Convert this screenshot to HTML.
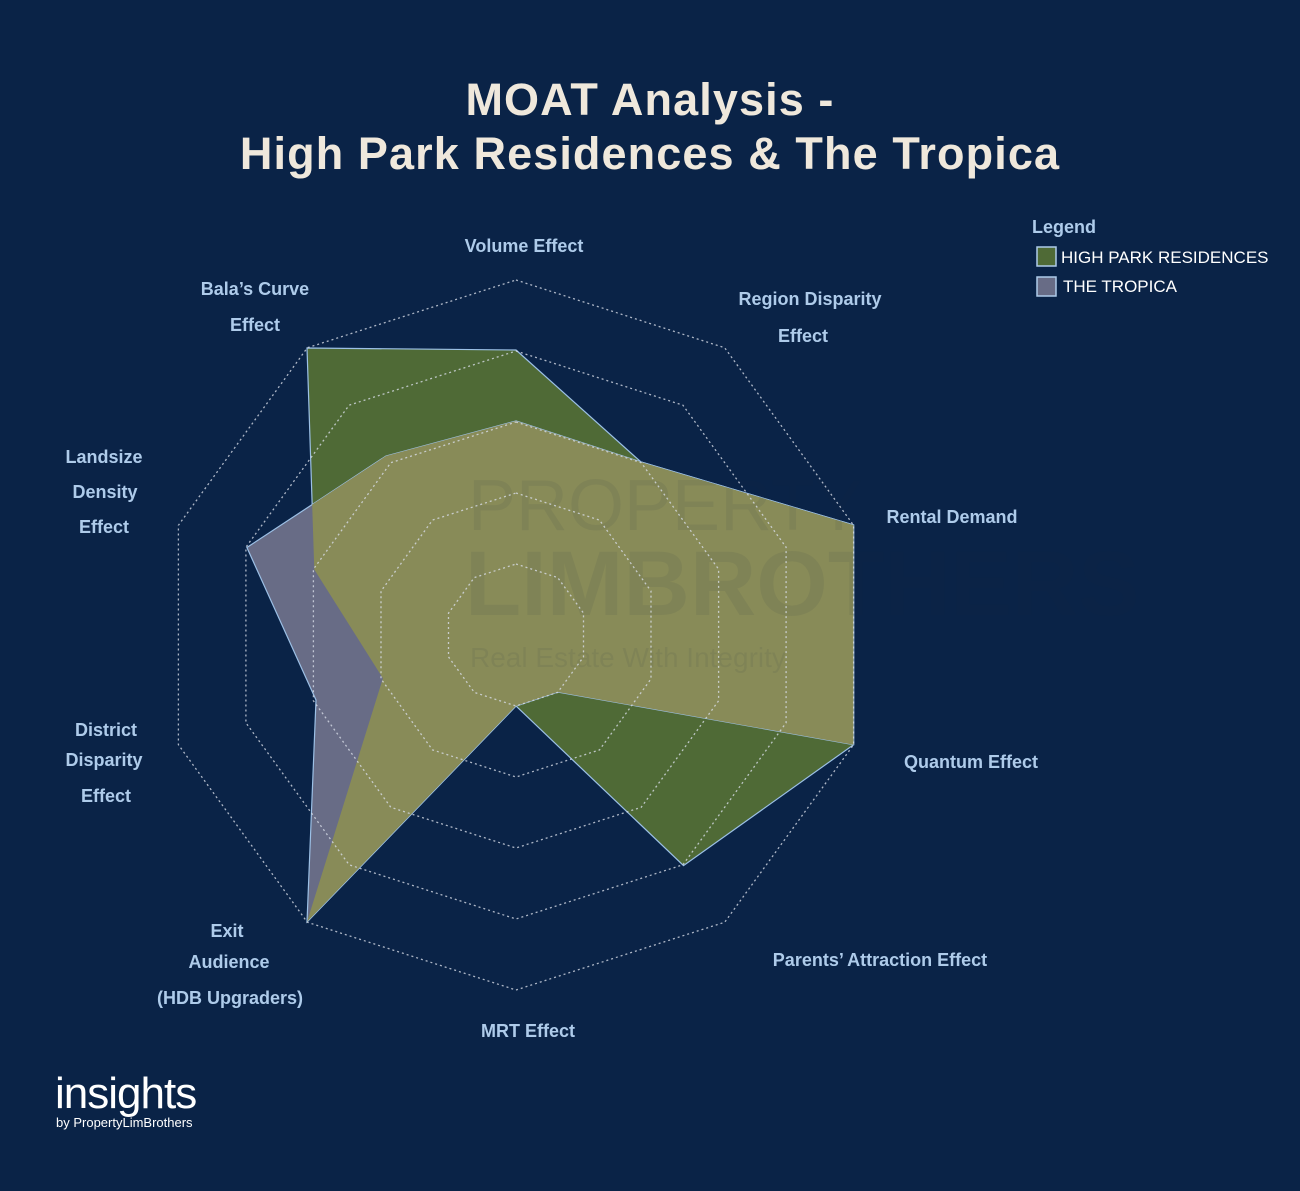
<!DOCTYPE html>
<html><head><meta charset="utf-8"><style>
html,body{margin:0;padding:0;background:#0a2347;}
body{width:1300px;height:1191px;overflow:hidden;position:relative;font-family:"Liberation Sans",sans-serif;}
.t{position:absolute;left:0;width:1300px;text-align:center;color:#efe8dc;font-weight:bold;font-size:45px;letter-spacing:1.1px;}
</style></head><body>
<div class="t" style="top:74px">MOAT Analysis -</div>
<div class="t" style="top:128px">High Park Residences &amp; The Tropica</div>
<svg width="1300" height="1191" style="position:absolute;left:0;top:0">
<defs>
<clipPath id="cg"><polygon points="516,350 641,462 853.6,525 853.6,744.7 683.5,865.6 516,706 307,922 382.9,678.3 314.3,569.5 307,348"/></clipPath>
</defs>
<polygon points="516,350 641,462 853.6,525 853.6,744.7 683.5,865.6 516,706 307,922 382.9,678.3 314.3,569.5 307,348" fill="#4f6a36" stroke="#9cc0e6" stroke-width="1.2"/>
<polygon points="516,421 641,462 853.6,525 853.6,744.7 557.7,692 516,706 307,922 316,700 246.9,547.5 386,456" fill="#686c86" stroke="#9cc0e6" stroke-width="1.2"/>
<polygon clip-path="url(#cg)" points="516,421 641,462 853.6,525 853.6,744.7 557.7,692 516,706 307,922 316,700 246.9,547.5 386,456" fill="#888b58"/>
<g font-family="Liberation Sans,sans-serif" fill="#1a2a40" opacity="0.07">
<text x="468" y="530" font-size="72">PROPERTY</text>
<text x="465" y="615" font-size="92" font-weight="bold">LIMBROTHERS</text>
<text x="470" y="667" font-size="28">Real Estate With Integrity</text>
</g>
<g fill="none" stroke="#d8dde8" stroke-width="1.3" stroke-dasharray="2,3" opacity="0.8">
<polygon points="516,564 557.7,577.6 583.5,613.1 583.5,656.9 557.7,692.4 516,706 474.3,692.4 448.5,656.9 448.5,613.1 474.3,577.6"/>
<polygon points="516,493 599.5,520.1 651,591.1 651,678.9 599.5,749.9 516,777 432.5,749.9 381,678.9 381,591.1 432.5,520.1"/>
<polygon points="516,422 641.2,462.7 718.6,569.2 718.6,700.8 641.2,807.3 516,848 390.8,807.3 313.4,700.8 313.4,569.2 390.8,462.7"/>
<polygon points="516,351 682.9,405.2 786.1,547.2 786.1,722.8 682.9,864.8 516,919 349.1,864.8 245.9,722.8 245.9,547.2 349.1,405.2"/>
<polygon points="516,280 724.7,347.8 853.6,525.3 853.6,744.7 724.7,922.2 516,990 307.3,922.2 178.4,744.7 178.4,525.3 307.3,347.8"/>
</g>
<g font-family="Liberation Sans,sans-serif" font-weight="bold" font-size="18" fill="#aecbea" text-anchor="middle">
<text x="524" y="252">Volume Effect</text>
<text x="810" y="305">Region Disparity</text><text x="803" y="342">Effect</text>
<text x="952" y="523">Rental Demand</text>
<text x="971" y="768">Quantum Effect</text>
<text x="880" y="966">Parents’ Attraction Effect</text>
<text x="528" y="1037">MRT Effect</text>
<text x="227" y="937">Exit</text><text x="229" y="968">Audience</text><text x="230" y="1004">(HDB Upgraders)</text>
<text x="106" y="736">District</text><text x="104" y="766">Disparity</text><text x="106" y="802">Effect</text>
<text x="104" y="463">Landsize</text><text x="105" y="498">Density</text><text x="104" y="533">Effect</text>
<text x="255" y="295">Bala’s Curve</text><text x="255" y="331">Effect</text>
</g>
<g font-family="Liberation Sans,sans-serif">
<text x="1032" y="233" font-weight="bold" font-size="18" fill="#aecbea">Legend</text>
<rect x="1037" y="247" width="19" height="19" fill="#4f6a36" stroke="#aecbea" stroke-width="1.5"/>
<text x="1061" y="263" font-size="17" fill="#ffffff">HIGH PARK RESIDENCES</text>
<rect x="1037" y="277" width="19" height="19" fill="#686c86" stroke="#aecbea" stroke-width="1.5"/>
<text x="1063" y="292" font-size="17" fill="#ffffff">THE TROPICA</text>
<text x="55" y="1108" font-size="44" fill="#ffffff" letter-spacing="-1">insights</text>
<text x="56" y="1127" font-size="13" fill="#ffffff">by PropertyLimBrothers</text>
</g>
</svg>
</body></html>
